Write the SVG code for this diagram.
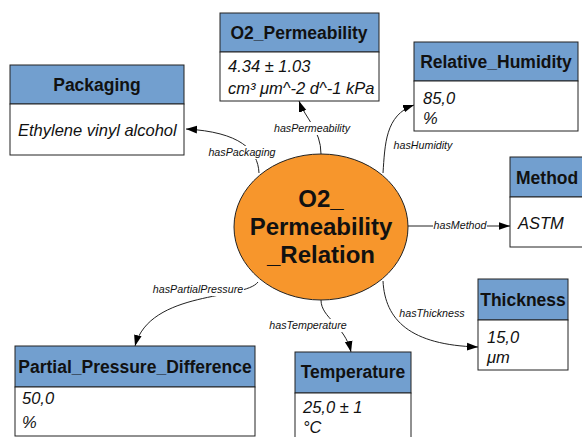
<svg xmlns="http://www.w3.org/2000/svg" width="582" height="437" viewBox="0 0 582 437">
<defs>
<marker id="arr" viewBox="0 0 10 10" refX="10" refY="5" markerWidth="11" markerHeight="11" markerUnits="userSpaceOnUse" orient="auto">
<path d="M0,1.5 L10,5 L0,8.5 Z" fill="#000"/>
</marker>
</defs>
<style>
text{font-family:'Liberation Sans',Arial,sans-serif;fill:#111}
.hd{fill:#729fcf;stroke:#222;stroke-width:1}
.bd{fill:#fff;stroke:#222;stroke-width:1}
.ht{font-weight:bold;font-size:17.5px}
.bt{font-style:italic;font-size:16.5px}
.el{font-style:italic;font-size:10.7px}
.ed{fill:none;stroke:#222;stroke-width:1;marker-end:url(#arr)}
.lb{fill:#fff}
</style>
<rect width="582" height="437" fill="#fff"/>
<g id="connectors">
<path class="ed" d="M259,173 C258,150 240,132 186,129"/>
<path class="ed" d="M321,154 C321,130 305,118 299,101"/>
<path class="ed" d="M383,173 C385,145 385,115 414,105"/>
<path class="ed" d="M408,226 L510,226"/>
<path class="ed" d="M383,281 C385,320 410,345 478,347"/>
<path class="ed" d="M321,300 C321,318 345,325 351,352"/>
<path class="ed" d="M258,282 C245,300 150,290 135,346"/>
<rect class="lb" x="270" y="122" width="84" height="13"/>
<text class="el" x="312" y="132" text-anchor="middle">hasPermeability</text>
<rect class="lb" x="207" y="146" width="70" height="13"/>
<text class="el" x="242" y="156" text-anchor="middle">hasPackaging</text>
<rect class="lb" x="390" y="139" width="66" height="13"/>
<text class="el" x="423" y="149" text-anchor="middle">hasHumidity</text>
<rect class="lb" x="433" y="219" width="54" height="13"/>
<text class="el" x="460" y="229" text-anchor="middle">hasMethod</text>
<rect class="lb" x="399" y="307" width="66" height="13"/>
<text class="el" x="432" y="317" text-anchor="middle">hasThickness</text>
<rect class="lb" x="268" y="319" width="80" height="13"/>
<text class="el" x="308" y="329" text-anchor="middle">hasTemperature</text>
<rect class="lb" x="152" y="283" width="92" height="13"/>
<text class="el" x="198" y="293" text-anchor="middle">hasPartialPressure</text>
</g>
<g id="relation">
<ellipse cx="321" cy="227" rx="87" ry="73" fill="#f7962c" stroke="#222" stroke-width="1"/>
<text class="ht" style="font-size:24px" x="321" y="207" text-anchor="middle">O2_</text>
<text class="ht" style="font-size:24px" x="321" y="235" text-anchor="middle">Permeability</text>
<text class="ht" style="font-size:24px" x="321" y="263" text-anchor="middle">_Relation</text>
</g>
<g id="packaging">
<rect class="hd" x="10" y="65" width="174" height="39"/>
<rect class="bd" x="10" y="104" width="174" height="51"/>
<text class="ht" x="97" y="91" text-anchor="middle">Packaging</text>
<text class="bt" x="18" y="136">Ethylene vinyl alcohol</text>
</g>
<g id="o2permeability">
<rect class="hd" x="220" y="13" width="159" height="39"/>
<rect class="bd" x="220" y="52" width="159" height="49"/>
<text class="ht" x="299" y="39" text-anchor="middle">O2_Permeability</text>
<text class="bt" x="228" y="72">4.34 ± 1.03</text>
<text class="bt" x="228" y="94">cm³ μm^-2 d^-1 kPa</text>
</g>
<g id="humidity">
<rect class="hd" x="414" y="42" width="164" height="39"/>
<rect class="bd" x="414" y="81" width="164" height="50"/>
<text class="ht" x="496" y="68" text-anchor="middle">Relative_Humidity</text>
<text class="bt" x="423" y="104">85,0</text>
<text class="bt" x="423" y="124">%</text>
</g>
<g id="method">
<rect class="hd" x="510" y="157" width="80" height="40"/>
<rect class="bd" x="510" y="197" width="80" height="50"/>
<text class="ht" x="516" y="184">Method</text>
<text class="bt" x="518" y="229">ASTM</text>
</g>
<g id="thickness">
<rect class="hd" x="478" y="279" width="90" height="41"/>
<rect class="bd" x="478" y="320" width="90" height="50"/>
<text class="ht" x="523" y="306" text-anchor="middle">Thickness</text>
<text class="bt" x="487" y="343">15,0</text>
<text class="bt" x="487" y="363">μm</text>
</g>
<g id="partialpressure">
<rect class="hd" x="15" y="346" width="240" height="41"/>
<rect class="bd" x="15" y="387" width="240" height="49"/>
<text class="ht" x="135" y="373" text-anchor="middle">Partial_Pressure_Difference</text>
<text class="bt" x="22" y="404">50,0</text>
<text class="bt" x="22" y="428">%</text>
</g>
<g id="temperature">
<rect class="hd" x="295" y="352" width="116" height="41"/>
<rect class="bd" x="295" y="393" width="116" height="50"/>
<text class="ht" x="353" y="378" text-anchor="middle">Temperature</text>
<text class="bt" x="303" y="413">25,0 ± 1</text>
<text class="bt" x="303" y="433">°C</text>
</g>
</svg>
